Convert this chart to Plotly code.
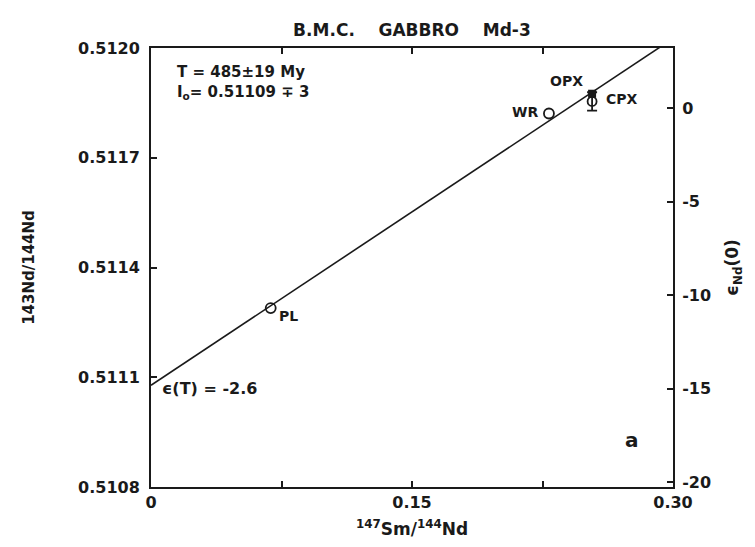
import plotly.graph_objects as go

# ---- data ----
sample_names = ["PL", "WR", "OPX", "CPX"]
sm_nd = [0.0688, 0.2287, 0.2535, 0.2535]
nd_nd = [0.511289, 0.511821, 0.511875, 0.511854]
cpx_err = [0.000025]

isochron_x = [0.0, 0.30]
isochron_y = [0.511078, 0.512026]

chur = 0.511836
x_range = [0.0, 0.30]
y_range = [0.5108, 0.5120]
x_tickvals = [0.0, 0.075, 0.15, 0.225, 0.30]
x_ticktext = ["0", " ", "0.15", " ", "0.30"]
y_tickvals = [0.5108, 0.5111, 0.5114, 0.5117, 0.5120]
y_ticktext = ["0.5108", "0.5111", "0.5114", "0.5117", "0.5120"]
eps_tickvals = [0, -5, -10, -15, -20]
eps_ticktext = ["0", "-5", "-10", "-15", "-20"]

FONT = "DejaVu Sans"
INK = "#1a1a1a"


def b(s):
    return "<b>" + s + "</b>"


eps_range = [(y_range[0] / chur - 1) * 1e4, (y_range[1] / chur - 1) * 1e4]

fig = go.Figure()

fig.add_trace(go.Scatter(x=isochron_x, y=isochron_y, mode="lines",
                         line=dict(color=INK, width=1.6), showlegend=False,
                         hoverinfo="skip"))

# open circles: PL, WR
fig.add_trace(go.Scatter(x=sm_nd[0:2], y=nd_nd[0:2], mode="markers",
                         marker=dict(symbol="circle-open", size=10,
                                     color=INK, line=dict(width=1.8)),
                         showlegend=False))
# OPX filled square
fig.add_trace(go.Scatter(x=[sm_nd[2]], y=[nd_nd[2]], mode="markers",
                         marker=dict(symbol="square", size=8, color=INK),
                         showlegend=False))
# CPX open circle with error bar
fig.add_trace(go.Scatter(x=[sm_nd[3]], y=[nd_nd[3]], mode="markers",
                         marker=dict(symbol="circle-open", size=9,
                                     color=INK, line=dict(width=1.8)),
                         error_y=dict(type="data", array=cpx_err, visible=True,
                                      color=INK, thickness=1.8, width=5),
                         showlegend=False))

# invisible trace on the epsilon axis
fig.add_trace(go.Scatter(x=[x_range[0]], y=[eps_range[0]], yaxis="y2",
                         mode="markers", marker=dict(opacity=0),
                         showlegend=False, hoverinfo="skip"))

# sample labels anchored to the points
label_shift = {"PL": (18, -8), "WR": (-24, 1), "OPX": (-26, 13), "CPX": (30, 2)}
for name, xv, yv in zip(sample_names, sm_nd, nd_nd):
    dx, dy = label_shift[name]
    fig.add_annotation(x=xv, y=yv, xref="x", yref="y", text=b(name),
                       showarrow=False, xshift=dx, yshift=dy,
                       font=dict(family=FONT, size=14, color=INK))

fig.add_annotation(x=0.0, y=1.0, xref="paper", yref="paper",
                   text=b("T = 485±19 My<br>I<sub>o</sub>= 0.51109 ∓ 3"),
                   align="left", showarrow=False, xanchor="left", yanchor="top",
                   xshift=24, yshift=-13,
                   font=dict(family=FONT, size=15, color=INK))

fig.add_annotation(x=isochron_x[0], y=isochron_y[0], xref="x", yref="y",
                   text=b("ϵ(T) = -2.6"), showarrow=False,
                   xanchor="left", yanchor="middle", xshift=9, yshift=-3,
                   font=dict(family=FONT, size=16, color=INK))

fig.add_annotation(x=1.0, y=0.0, xref="paper", yref="paper", text=b("a"),
                   showarrow=False, xanchor="right", yanchor="bottom",
                   xshift=-32, yshift=33,
                   font=dict(family=FONT, size=20, color=INK))

axis_common = dict(showgrid=False, zeroline=False, showline=True,
                   linecolor=INK, linewidth=2, ticks="inside", ticklen=6,
                   tickwidth=1.8, tickcolor=INK,
                   tickfont=dict(family=FONT, size=16, color=INK, weight="bold"))

fig.update_layout(
    width=755, height=547,
    margin=dict(l=143, r=90, t=40, b=68),
    paper_bgcolor="white", plot_bgcolor="white",
    title=dict(text=b("B.M.C.    GABBRO    Md-3"), x=0.535, xanchor="center",
               y=1 - 22 / 547, yanchor="middle", yref="container",
               font=dict(family=FONT, size=17, color=INK)),
    xaxis=dict(range=x_range, tickvals=x_tickvals, ticktext=x_ticktext,
               mirror="ticks",
               title=dict(text=b("<sup>147</sup>Sm/<sup>144</sup>Nd"), standoff=12,
                          font=dict(family=FONT, size=17, color=INK)),
               **axis_common),
    yaxis=dict(range=y_range, tickvals=y_tickvals, ticktext=y_ticktext,
               mirror=False, ticklabelstandoff=6,
               title=dict(text=b("143Nd/144Nd"), standoff=40,
                          font=dict(family=FONT, size=15, color=INK)),
               **axis_common),
    yaxis2=dict(range=eps_range, tickvals=eps_tickvals, ticktext=eps_ticktext,
                overlaying="y", side="right", ticklabelstandoff=4,
                title=dict(text=b("ϵ<sub>Nd</sub>(0)"), standoff=16,
                           font=dict(family=FONT, size=17, color=INK)),
                **axis_common),
)

fig.write_html("out.html")
